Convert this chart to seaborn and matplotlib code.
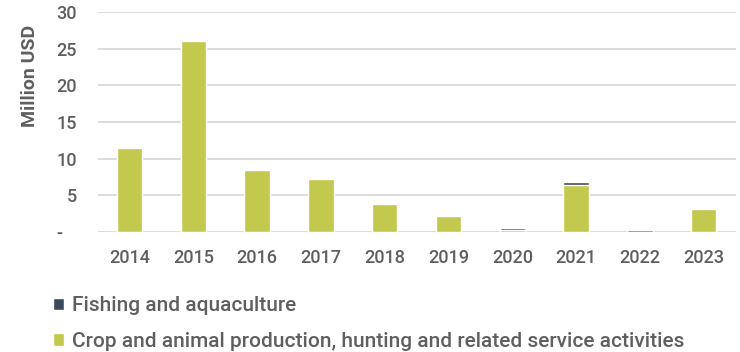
import matplotlib
matplotlib.use("Agg")
import matplotlib.pyplot as plt
from matplotlib.patches import Patch
import seaborn as sns
import pandas as pd

years = ["2014", "2015", "2016", "2017", "2018", "2019", "2020", "2021", "2022", "2023"]
crop = [11.5, 26.1, 8.5, 7.2, 3.8, 2.2, 0.3, 6.45, 0.0, 3.2]
fishing = [0.0, 0.0, 0.0, 0.0, 0.0, 0.0, 0.2, 0.35, 0.23, 0.0]
y_ticks = [0, 5, 10, 15, 20, 25, 30]
y_tick_labels = ["-   ", "5", "10", "15", "20", "25", "30"]

crop_label = "Crop and animal production, hunting and related service activities"
fish_label = "Fishing and aquaculture"
green = "#C3C94E"
navy = "#3D4A5C"
text_grey = "#5F5F5F"

sns.set_theme(style="white")
plt.rcParams["font.family"] = ["Roboto", "DejaVu Sans"]
plt.rcParams["font.weight"] = "medium"

df = pd.DataFrame({"year": years, "crop": crop, "fishing": fishing})
df["total"] = df["crop"] + df["fishing"]

fig = plt.figure(figsize=(7.4, 3.52), dpi=100)
ax = fig.add_axes([0.132, 0.341, 0.862, 0.625])

# stacked look: totals underneath, crop share on top
sns.barplot(data=df, x="year", y="total", color=navy, width=0.4,
            saturation=1, ax=ax, zorder=2)
sns.barplot(data=df, x="year", y="crop", color=green, width=0.4,
            saturation=1, ax=ax, zorder=3)

ax.set_ylim(0, 30)
ax.set_xlim(-0.5, len(years) - 0.5)
ax.set_yticks(y_ticks)
ax.set_yticklabels(y_tick_labels)
ax.yaxis.grid(True, color="#D9D9D9", linewidth=1.3, zorder=0)
ax.set_axisbelow(True)
for side in ["top", "right", "left", "bottom"]:
    ax.spines[side].set_visible(False)

ax.tick_params(axis="both", length=0, labelsize=13, colors=text_grey)
ax.tick_params(axis="y", pad=15)
ax.tick_params(axis="x", pad=12)
ax.set_xlabel("")
ax.set_ylabel("Million USD", fontsize=14, fontweight="bold", color=text_grey)
ax.yaxis.set_label_coords(-0.092, 0.71)

handles = [Patch(facecolor=navy, label=fish_label),
           Patch(facecolor=green, label=crop_label)]
fig.legend(handles=handles, loc="lower left", bbox_to_anchor=(0.046, -0.05),
           frameon=False, fontsize=15, labelcolor=text_grey,
           handlelength=0.55, handleheight=0.55, handletextpad=0.35,
           labelspacing=0.8)

fig.savefig("out.png", dpi=100)
